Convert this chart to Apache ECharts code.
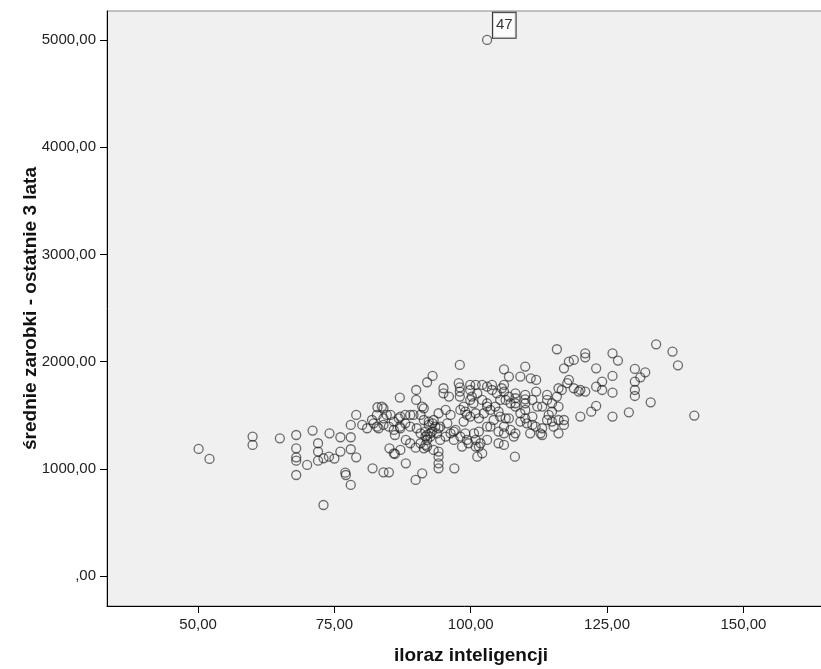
<!DOCTYPE html>
<html>
<head>
<meta charset="utf-8">
<title>iloraz inteligencji / średnie zarobki</title>
<script src="https://cdn.jsdelivr.net/npm/echarts@6.0.0/dist/echarts.min.js"></script>
<style>
  html, body { margin: 0; padding: 0; background: #ffffff; }
  #chart { width: 821px; height: 669px; }
</style>
</head>
<body>
<div id="chart"></div>
<script>
// iloraz inteligencji (x) and średnie zarobki - ostatnie 3 lata (y)
var iq = [
  50.1, 52.1, 60.0, 60.0, 65.0, 68.0, 68.0, 68.0, 68.0, 68.0,
  70.0, 71.0, 72.0, 72.0, 72.0, 73.0, 73.0, 74.0, 74.1, 75.0,
  76.1, 76.1, 77.0, 77.1, 78.0, 78.0, 78.0, 78.0, 79.0, 79.0,
  80.1, 81.0, 82.0, 82.2, 82.9, 83.1, 84.0, 84.0, 85.0, 84.0,
  85.1, 85.3, 86.1, 86.1, 87.0, 87.0, 87.1, 88.1, 88.1, 88.9,
  89.9, 89.9, 90.0, 90.0, 90.1, 91.1, 91.1, 92.0, 93.0, 93.0,
  92.0, 92.0, 81.9, 82.8, 83.7, 84.6, 85.9, 86.8, 88.0, 89.5,
  90.8, 91.4, 92.3, 94.1, 82.8, 84.0, 85.0, 85.9, 87.1, 88.0,
  88.9, 90.8, 91.7, 92.6, 93.5, 85.9, 87.1, 88.9, 90.8, 92.9,
  91.4, 94.1, 94.1, 94.1, 94.1, 94.1, 95.0, 95.0, 96.0, 95.4,
  96.3, 96.9, 97.0, 97.8, 98.0, 98.0, 98.0, 98.0, 98.1, 98.7,
  99.0, 99.3, 99.0, 99.9, 100.2, 100.9, 101.2, 100.9, 100.9, 101.5,
  102.1, 101.2, 102.1, 103.0, 103.0, 103.0, 103.9, 106.1, 107.0, 106.1,
  106.1, 107.0, 107.0, 108.2, 108.2, 108.2, 108.1, 109.1, 110.0, 110.0,
  110.0, 110.0, 111.0, 112.0, 112.0, 111.3, 111.3, 110.9, 113.1, 113.1,
  114.0, 114.0, 114.9, 115.8, 116.1, 116.1, 116.1, 117.1, 117.1, 117.1,
  118.0, 118.9, 118.0, 118.9, 120.1, 120.1, 121.0, 121.0, 121.0, 122.1,
  123.0, 123.0, 123.0, 124.1, 124.1, 126.0, 127.0, 126.0, 126.0, 126.0,
  129.0, 130.1, 130.1, 130.1, 130.1, 131.1, 132.0, 133.0, 134.0, 137.0,
  138.0, 141.0, 93.2, 92.3, 91.7, 92.6, 93.8, 94.4, 95.4, 96.3,
  97.2, 96.9, 98.1, 99.3, 100.6, 101.5, 101.8, 100.9, 103.0, 103.6,
  104.2, 105.1, 105.4, 106.4, 106.1, 105.1, 106.1, 107.3, 108.2, 107.9,
  109.1, 110.0, 110.3, 111.9, 112.8, 113.1, 114.0, 114.3, 114.9, 115.2,
  116.1, 103.0, 103.6, 104.5, 105.4, 106.4, 107.3, 108.2, 109.1, 110.0,
  111.3, 112.2, 114.9, 115.8, 116.7, 117.7, 119.8, 99.9, 103.9, 104.8,
  105.7, 99.9, 100.5, 93.2, 105.1, 106.1, 91.7, 92.0, 91.4, 98.7,
  99.9, 101.5, 102.4, 102.1, 98.4, 99.6, 94.4, 95.7
];
var salary = [
  1185, 1092, 1300, 1222, 1284, 1315, 1191, 1107, 1076, 942,
  1036, 1356, 1238, 1160, 1076, 1098, 662, 1113, 1331, 1095,
  1294, 1160, 964, 942, 849, 1182, 1294, 1409, 1502, 1107,
  1409, 1378, 1004, 1424, 1574, 1378, 1564, 967, 967, 1471,
  1191, 1502, 1138, 1315, 1664, 1393, 1487, 1051, 1269, 1502,
  896, 1197, 1735, 1642, 1378, 958, 1580, 1807, 1866, 1424,
  1315, 1207, 1455, 1502, 1580, 1502, 1440, 1471, 1502, 1502,
  1502, 1455, 1440, 1518, 1393, 1409, 1393, 1362, 1378, 1424,
  1393, 1331, 1300, 1331, 1393, 1144, 1176, 1238, 1238, 1347,
  1564, 1160, 1113, 1051, 1004, 1378, 1751, 1704, 1673, 1549,
  1502, 1347, 1004, 1798, 1760, 1720, 1673, 1969, 1549, 1580,
  1533, 1502, 1331, 1782, 1673, 1782, 1704, 1518, 1269, 1207,
  1144, 1113, 1782, 1766, 1611, 1393, 1782, 1928, 1860, 1782,
  1720, 1673, 1471, 1704, 1658, 1611, 1113, 1860, 1953, 1689,
  1648, 1611, 1844, 1829, 1720, 1487, 1409, 1331, 1580, 1315,
  1689, 1642, 1533, 2115, 1751, 1580, 1331, 1937, 1455, 1409,
  2000, 2015, 1829, 1751, 1735, 1487, 2077, 2040, 1720, 1533,
  1937, 1766, 1586, 1813, 1735, 2077, 2009, 1866, 1710, 1487,
  1527, 1931, 1813, 1735, 1679, 1853, 1900, 1620, 2161, 2093,
  1965, 1496, 1455, 1409, 1347, 1300, 1331, 1269, 1300, 1331,
  1362, 1269, 1300, 1269, 1331, 1347, 1238, 1207, 1269, 1393,
  1455, 1533, 1487, 1471, 1393, 1347, 1331, 1362, 1331, 1300,
  1440, 1471, 1424, 1393, 1331, 1378, 1455, 1502, 1440, 1393,
  1455, 1580, 1549, 1580, 1642, 1642, 1611, 1580, 1518, 1549,
  1642, 1580, 1611, 1673, 1735, 1798, 1720, 1735, 1735, 1704,
  1751, 1642, 1611, 1176, 1238, 1222, 1222, 1269, 1191, 1440,
  1487, 1471, 1518, 1642, 1207, 1238, 1393, 1424
];
// the labelled outlier (case 47)
var outlierIq = 103.0;
var outlierSalary = 5000;
var outlierCase = '47';

var xTicks = [50, 75, 100, 125, 150];
var yTicks = [0, 1000, 2000, 3000, 4000, 5000];

var points = iq.map(function (v, i) { return [v, salary[i]]; });

function spssNumber(v) {
  // SPSS style: comma decimal, zero shown as ",00"
  if (v === 0) return ',00';
  return v.toFixed(2).replace('.', ',');
}

var font = 'Liberation Sans, Arial, sans-serif';
var ringStyle = {
  color: 'transparent',
  borderColor: 'rgba(25,25,25,0.78)',
  borderWidth: 1.3
};

var chart = echarts.init(document.getElementById('chart'), null, { renderer: 'canvas' });
var option = {
  animation: false,
  backgroundColor: '#ffffff',
  grid: {
    left: 107, top: 11, right: -14, bottom: 63,
    show: true,
    backgroundColor: '#f0f0f0',
    borderColor: '#8a8a8a',
    borderWidth: 1,
    containLabel: false,
    outerBoundsMode: 'none'
  },
  xAxis: {
    type: 'value',
    min: 33.3,
    max: 166.8,
    name: 'iloraz inteligencji',
    nameLocation: 'middle',
    nameGap: 40,
    nameMoveOverlap: false,
    nameTextStyle: { fontFamily: font, fontSize: 19, fontWeight: 'bold', color: '#111' },
    axisLine: { show: true, onZero: false, lineStyle: { color: '#000', width: 1 } },
    axisTick: { show: true, length: 7, customValues: xTicks, lineStyle: { color: '#000' } },
    axisLabel: {
      customValues: xTicks, margin: 11,
      fontFamily: font, fontSize: 15, color: '#222',
      formatter: spssNumber
    },
    splitLine: { show: false }
  },
  yAxis: {
    type: 'value',
    min: -280,
    max: 5270,
    name: 'średnie zarobki - ostatnie 3 lata',
    nameLocation: 'middle',
    nameGap: 67,
    nameMoveOverlap: false,
    nameTextStyle: { fontFamily: font, fontSize: 19, fontWeight: 'bold', color: '#111' },
    axisLine: { show: true, onZero: false, lineStyle: { color: '#000', width: 1 } },
    axisTick: { show: true, length: 7, customValues: yTicks, lineStyle: { color: '#000' } },
    axisLabel: {
      customValues: yTicks, margin: 11,
      fontFamily: font, fontSize: 15, color: '#222',
      formatter: spssNumber
    },
    splitLine: { show: false }
  },
  series: [
    {
      type: 'scatter',
      symbol: 'circle',
      symbolSize: 9,
      data: points,
      itemStyle: ringStyle,
      silent: true
    },
    {
      type: 'scatter',
      symbol: 'circle',
      symbolSize: 9,
      data: [[outlierIq, outlierSalary]],
      itemStyle: ringStyle,
      label: {
        show: true,
        position: [11, -22],
        formatter: outlierCase,
        fontFamily: font,
        fontSize: 15,
        lineHeight: 17,
        color: '#000',
        backgroundColor: '#ffffff',
        borderColor: '#000',
        borderWidth: 1,
        padding: [4, 3, 4, 3]
      },
      silent: true
    }
  ]
};
chart.setOption(option);
</script>
</body>
</html>
